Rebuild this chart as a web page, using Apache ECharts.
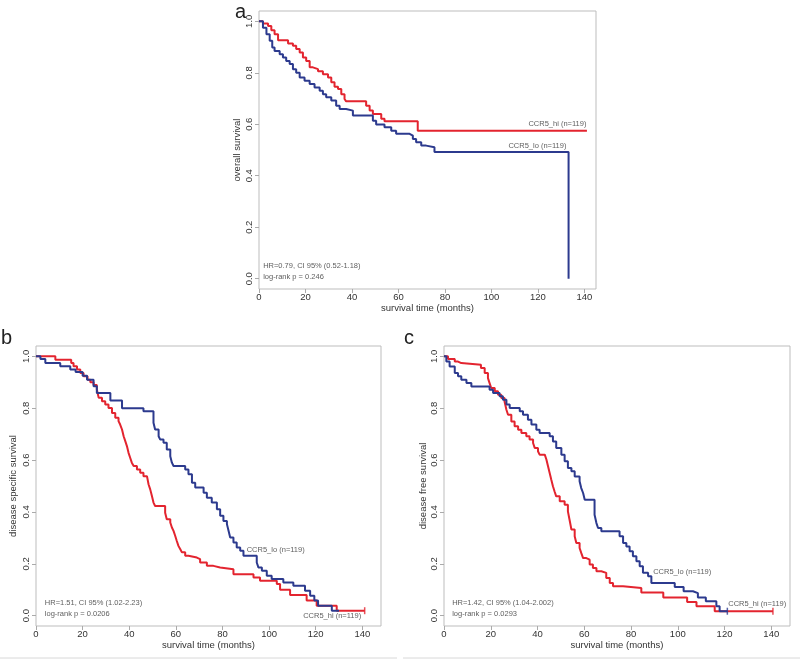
<!DOCTYPE html>
<html><head><meta charset="utf-8">
<script src="https://cdn.jsdelivr.net/npm/echarts@6/dist/echarts.min.js"></script>
<style>html,body{margin:0;padding:0;background:#fff}#c{width:800px;height:661px}</style>
</head><body><div id="c"></div>
<script>
// ---- tick labels ----
const xTicks = [0, 20, 40, 60, 80, 100, 120, 140];
const yTicks = [0, 0.2, 0.4, 0.6, 0.8, 1.0];

// ---- panel a: overall survival ----
const aHiT = [0, 1.7, 3.9, 5.3, 6.7, 8.2, 12.5, 14.6, 16, 17.5, 18.9, 20.3, 21.8, 23.2, 25.4, 27.5, 29.7, 31.1, 32.5, 34, 35.4, 36.8, 37.5, 46.1, 47.6, 49, 52.6, 54, 68.3, 141.1];
const aHiS = [1, 0.991, 0.982, 0.965, 0.950, 0.926, 0.914, 0.905, 0.892, 0.879, 0.859, 0.846, 0.821, 0.814, 0.806, 0.794, 0.782, 0.763, 0.746, 0.737, 0.717, 0.698, 0.689, 0.672, 0.653, 0.640, 0.621, 0.612, 0.575, 0.575];
const aLoT = [0, 1.7, 3.2, 4.6, 5.7, 6.7, 8.9, 10.3, 11.7, 13.2, 14.6, 16, 17.5, 19.6, 21.8, 23.9, 26.1, 27.5, 28.9, 31.1, 33.2, 34.7, 37.5, 40.4, 49, 50.4, 54, 56.9, 59, 64.8, 66.2, 67.6, 69.8, 71.9, 75.5, 133.2];
const aLoS = [1, 0.975, 0.950, 0.924, 0.898, 0.885, 0.872, 0.859, 0.846, 0.834, 0.814, 0.800, 0.782, 0.769, 0.756, 0.743, 0.730, 0.717, 0.705, 0.692, 0.672, 0.659, 0.653, 0.634, 0.614, 0.599, 0.588, 0.575, 0.563, 0.556, 0.543, 0.530, 0.517, 0.511, 0.492, 0];

// ---- panel b: disease specific survival ----
const bHiT = [0, 8.3, 15.1, 16.1, 17.6, 19, 20.4, 22.1, 23.3, 24.7, 26.1, 26.9, 28.3, 29.7, 31.1, 32.6, 34, 35.4, 36.1, 36.9, 37.6, 38.3, 39, 39.7, 40.4, 41.1, 41.9, 43.3, 44.7, 46.1, 47.6, 48.3, 49, 49.7, 50.4, 51.1, 55.4, 56.1, 57.6, 58.3, 59, 59.7, 60.4, 61.1, 61.9, 62.6, 64, 65.4, 69, 70.4, 73.3, 76.1, 79, 84.7, 93.3, 96.1, 103.3, 104.7, 109, 116.1, 120.4, 129, 141];
const bHiS = [1, 0.987, 0.974, 0.962, 0.949, 0.936, 0.923, 0.910, 0.900, 0.890, 0.872, 0.840, 0.827, 0.814, 0.801, 0.782, 0.763, 0.750, 0.737, 0.718, 0.692, 0.673, 0.654, 0.628, 0.609, 0.590, 0.577, 0.564, 0.551, 0.538, 0.532, 0.506, 0.487, 0.462, 0.436, 0.423, 0.397, 0.372, 0.359, 0.340, 0.327, 0.308, 0.288, 0.269, 0.256, 0.244, 0.231, 0.224, 0.218, 0.205, 0.192, 0.186, 0.179, 0.160, 0.147, 0.135, 0.122, 0.100, 0.080, 0.058, 0.038, 0.019, 0.019];
const bLoT = [0, 1.9, 4, 10.4, 14.7, 17, 20, 21.9, 24.7, 26.1, 31.9, 36.9, 46.1, 50.4, 51.1, 52.6, 53.3, 54.7, 56.1, 57.6, 58.3, 59, 64, 65.4, 66.9, 68.3, 71.9, 73.3, 75.4, 77.6, 79, 80.4, 81.9, 82.6, 83.3, 84.7, 86.1, 87.6, 89, 94.7, 95.4, 96.9, 99, 101.1, 106.1, 110.4, 115.4, 117.6, 119.4, 121, 126.9, 130];
const bLoS = [1, 0.990, 0.974, 0.962, 0.949, 0.940, 0.925, 0.910, 0.885, 0.859, 0.830, 0.800, 0.788, 0.744, 0.718, 0.692, 0.679, 0.667, 0.641, 0.615, 0.590, 0.577, 0.564, 0.545, 0.513, 0.494, 0.474, 0.455, 0.436, 0.410, 0.385, 0.365, 0.353, 0.327, 0.301, 0.282, 0.263, 0.250, 0.231, 0.205, 0.186, 0.173, 0.154, 0.141, 0.128, 0.115, 0.096, 0.077, 0.058, 0.038, 0.019, 0.019];

// ---- panel c: disease free survival ----
const cHiT = [0, 1.7, 4.6, 6, 7.4, 15.8, 17.4, 18.8, 19.5, 20.2, 21.7, 23.1, 24.5, 25.9, 26.7, 27.4, 28.8, 30.2, 31.7, 33.1, 35.2, 36.6, 38.1, 38.8, 40.2, 40.9, 43.1, 43.8, 44.5, 45.2, 45.9, 46.6, 47.3, 48, 49.5, 51.6, 53, 53.7, 54.5, 55.9, 56.6, 58, 58.7, 59.5, 60.9, 62.3, 63.7, 65.2, 67.3, 69.4, 70.9, 72.3, 76.6, 84.4, 93.8, 104, 108, 115.8, 140.7];
const cHiS = [1, 0.990, 0.980, 0.974, 0.968, 0.955, 0.936, 0.916, 0.897, 0.878, 0.865, 0.852, 0.839, 0.826, 0.794, 0.775, 0.749, 0.730, 0.717, 0.704, 0.692, 0.679, 0.666, 0.647, 0.634, 0.621, 0.614, 0.602, 0.576, 0.550, 0.524, 0.499, 0.479, 0.460, 0.441, 0.428, 0.402, 0.370, 0.332, 0.306, 0.280, 0.261, 0.242, 0.222, 0.216, 0.197, 0.184, 0.171, 0.165, 0.145, 0.126, 0.113, 0.107, 0.089, 0.070, 0.053, 0.036, 0.017, 0.017];
const cLoT = [0, 1, 2.4, 4.6, 6, 7.4, 9.6, 11.7, 19.5, 21, 23.8, 25.2, 26.7, 28.1, 32.4, 33.8, 35.9, 37.4, 39.5, 40.9, 45.2, 46.6, 48, 50.2, 51.6, 53, 54.5, 55.9, 58, 58.7, 59.5, 60.2, 64.4, 65.2, 65.9, 67.3, 75.1, 76.6, 78, 79.4, 80.8, 82.3, 83.7, 85.1, 87.3, 88.7, 98.7, 102.5, 106.5, 108.6, 112, 116.5, 117.9, 121.2];
const cLoS = [1, 0.980, 0.961, 0.936, 0.923, 0.910, 0.897, 0.884, 0.871, 0.859, 0.846, 0.833, 0.814, 0.801, 0.788, 0.775, 0.756, 0.737, 0.717, 0.704, 0.692, 0.672, 0.647, 0.621, 0.595, 0.569, 0.557, 0.537, 0.518, 0.492, 0.473, 0.447, 0.389, 0.357, 0.338, 0.325, 0.306, 0.280, 0.267, 0.248, 0.229, 0.210, 0.190, 0.165, 0.152, 0.126, 0.110, 0.094, 0.087, 0.070, 0.055, 0.036, 0.017, 0.017];

// ---- censor marks (time, survival) ----
const bHiCensor = [[141, 0.019]];
const cHiCensor = [[140.7, 0.017]];
const cLoCensor = [[121.2, 0.017]];

// ---- annotations: [x, y, text, align] ----
const aNotes = [[141.1, 0.60, 'CCR5_hi (n=119)', 'right'], [132.5, 0.515, 'CCR5_lo (n=119)', 'right'], [2.0, 0.047, 'HR=0.79, CI 95% (0.52-1.18)', 'left'], [2.0, 0.005, 'log-rank p = 0.246', 'left']];
const bNotes = [[90.6, 0.253, 'CCR5_lo (n=119)', 'left'], [139.7, -0.002, 'CCR5_hi (n=119)', 'right'], [4.0, 0.048, 'HR=1.51, CI 95% (1.02-2.23)', 'left'], [4.0, 0.005, 'log-rank p = 0.0206', 'left']];
const cNotes = [[89.7, 0.165, 'CCR5_lo (n=119)', 'left'], [146.6, 0.042, 'CCR5_hi (n=119)', 'right'], [3.7, 0.046, 'HR=1.42, CI 95% (1.04-2.002)', 'left'], [3.7, 0.004, 'log-rank p = 0.0293', 'left']];

const yTitles = ['overall survival', 'disease specific survival', 'disease free survival'];
const xTitle = 'survival time (months)';
const panelLetters = ['a', 'b', 'c'];

const RED = '#e3242f', BLUE = '#2c3a8e';
const FONT = '"Liberation Sans", Arial, Helvetica, sans-serif';
const TXT = '#333';

const zip = (t, s) => t.map((v, i) => [v, s[i]]);

const grids = [
  {left: 259, top: 11, width: 337, height: 278},
  {left: 36, top: 346, width: 345, height: 280},
  {left: 444, top: 346, width: 346, height: 280}
];
const xMax = [145, 148, 148];
const yNameGap = [17, 18, 16];

const option = {
  backgroundColor: '#fff',
  animation: false,
  textStyle: {fontFamily: FONT},
  grid: grids.map(g => Object.assign({show: true, borderColor: '#bdbdbd', borderWidth: 1, backgroundColor: 'transparent'}, g)),
  xAxis: grids.map((g, i) => ({
    type: 'value', gridIndex: i, min: 0, max: xMax[i],
    name: xTitle, nameLocation: 'middle', nameGap: 13,
    nameTextStyle: {fontSize: 9.5, color: TXT, fontFamily: FONT},
    axisLine: {show: false, onZero: false},
    axisTick: {show: true, length: 4, lineStyle: {color: '#aaa'}, customValues: xTicks},
    axisLabel: {fontSize: 9.5, color: TXT, margin: 3, fontFamily: FONT, customValues: xTicks},
    splitLine: {show: false}
  })),
  yAxis: grids.map((g, i) => ({
    type: 'value', gridIndex: i, min: -0.04, max: 1.04,
    name: yTitles[i], nameLocation: 'middle', nameGap: yNameGap[i], nameRotate: 90,
    nameTextStyle: {fontSize: 9.5, color: TXT, fontFamily: FONT},
    axisLine: {show: false, onZero: false},
    axisTick: {show: true, length: 4, lineStyle: {color: '#aaa'}, customValues: yTicks},
    axisLabel: {fontSize: 9.5, color: TXT, margin: 5, rotate: 90, fontFamily: FONT, customValues: yTicks,
      formatter: v => v.toFixed(1)},
    splitLine: {show: false}
  })),
  series: [],
  graphic: [
    {type: 'text', left: 235, top: 2, style: {text: panelLetters[0], fontSize: 20, fill: '#222', fontFamily: FONT}},
    {type: 'text', left: 1, top: 328, style: {text: panelLetters[1], fontSize: 20, fill: '#222', fontFamily: FONT}},
    {type: 'text', left: 404, top: 328, style: {text: panelLetters[2], fontSize: 20, fill: '#222', fontFamily: FONT}},
    {type: 'line', shape: {x1: 0, y1: 658, x2: 397, y2: 658}, style: {stroke: '#d8d8d8', lineWidth: 1}},
    {type: 'line', shape: {x1: 403, y1: 658, x2: 800, y2: 658}, style: {stroke: '#d8d8d8', lineWidth: 1}}
  ]
};

function lineSeries(i, t, s, color) {
  return {type: 'line', xAxisIndex: i, yAxisIndex: i, step: 'end', data: zip(t, s),
    showSymbol: false, symbol: 'none', lineStyle: {color, width: 2}, itemStyle: {color}, silent: true, z: 3};
}
function censorSeries(i, pts, color) {
  return {type: 'scatter', xAxisIndex: i, yAxisIndex: i, data: pts, symbol: 'rect', symbolSize: [1.5, 7],
    itemStyle: {color}, silent: true, z: 4};
}
function noteSeries(i, notes) {
  return {type: 'scatter', xAxisIndex: i, yAxisIndex: i, symbolSize: 1, itemStyle: {color: 'rgba(0,0,0,0)'},
    silent: true, z: 5,
    data: notes.map(n => ({value: [n[0], n[1]], label: {show: true, formatter: n[2], position: [0, 0], align: n[3], verticalAlign: 'middle',
      fontSize: 7.5, color: TXT, fontFamily: FONT}}))};
}

option.series.push(
  lineSeries(0, aHiT, aHiS, RED), lineSeries(0, aLoT, aLoS, BLUE),
  lineSeries(1, bHiT, bHiS, RED), lineSeries(1, bLoT, bLoS, BLUE),
  lineSeries(2, cHiT, cHiS, RED), lineSeries(2, cLoT, cLoS, BLUE),
  censorSeries(1, bHiCensor, RED), censorSeries(2, cHiCensor, RED), censorSeries(2, cLoCensor, BLUE),
  noteSeries(0, aNotes), noteSeries(1, bNotes), noteSeries(2, cNotes)
);

const chart = echarts.init(document.getElementById('c'), null, {renderer: 'canvas'});
chart.setOption(option);
</script>
</body></html>
